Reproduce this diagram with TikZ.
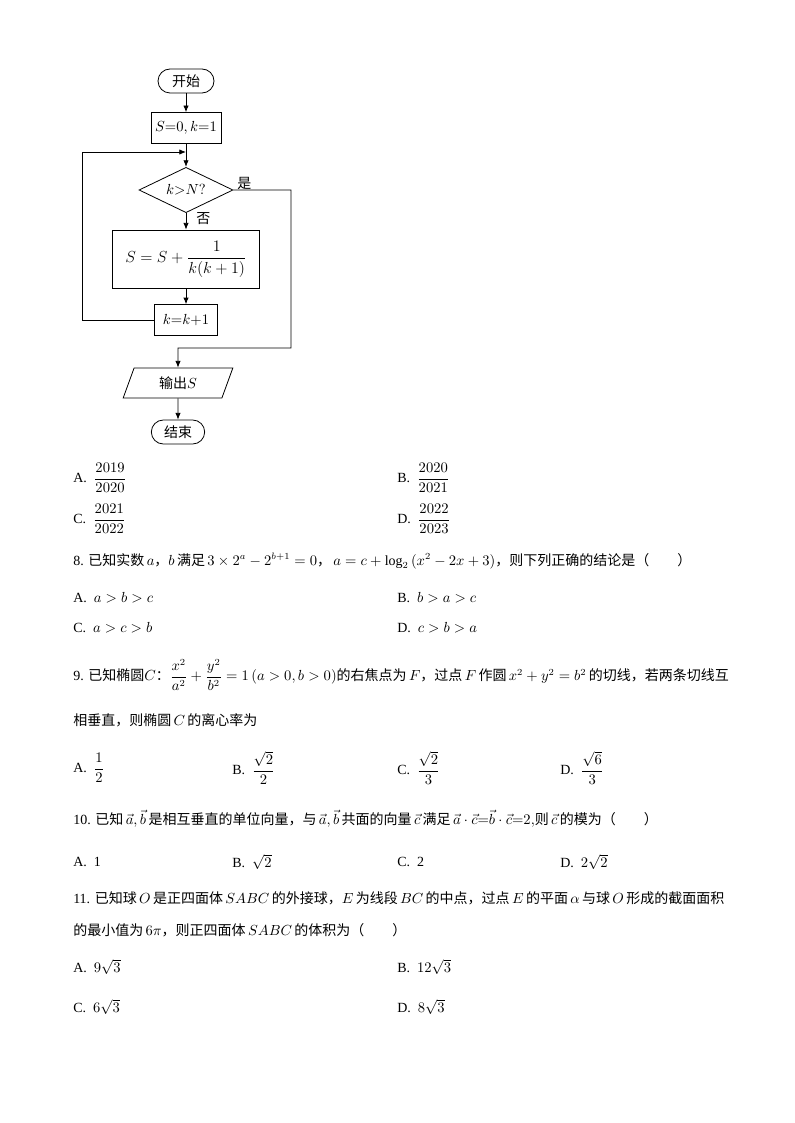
\documentclass[tikz,border=0pt]{standalone}
\usepackage{amsmath}
\usepackage{fontspec}
\setmainfont{Liberation Serif}
\newfontfamily\cjk{Noto Sans CJK SC}
\usetikzlibrary{shapes.geometric,arrows.meta}
\begin{document}
\begin{tikzpicture}[x=0.75pt,y=-0.75pt,font=\fontsize{10.5pt}{12pt}\selectfont,
  line/.style={draw,line width=0.6pt},
  arr/.style={line,-{Latex[length=5pt,width=4pt]}},
  boxst/.style={draw,line width=0.6pt,inner sep=0pt},
  txt/.style={anchor=west,inner sep=0pt}]
\useasboundingbox[fill=white] (0,0) rectangle (794,1123);
% flowchart
\node[boxst,rounded corners=9pt,minimum width=42pt,minimum height=18pt] (start) at (186,81) {\cjk 开始};
\node[boxst,minimum width=52.5pt,minimum height=23pt] (init) at (186,128) {$S{=}0,k{=}1$};
\coordinate (j1) at (186,152);
\node[boxst,diamond,aspect=2.1,minimum width=70.5pt,minimum height=34pt] (dec) at (186,190) {$k{>}N?$};
\node[boxst,minimum width=110pt,minimum height=43.5pt] (upd) at (186,259) {\fontsize{13pt}{15pt}\selectfont$S=S+\dfrac{1}{k(k+1)}$};
\node[boxst,minimum width=47pt,minimum height=23pt] (inc) at (186,320) {$k{=}k{+}1$};
\node[boxst,trapezium,trapezium left angle=70,trapezium right angle=110,minimum width=40pt,minimum height=22.5pt,inner xsep=0pt] (out) at (178,383) {{\cjk 输出}$S$};
\node[boxst,rounded corners=9pt,minimum width=40pt,minimum height=18pt] (end) at (178,432) {\cjk 结束};
\draw[arr] (start) -- (init);
\draw[arr] (init) -- (dec);
\draw[arr] (dec) -- (upd);
\draw[arr] (upd) -- (inc);
\draw[arr] (inc.west) -- (82,320) -- (82,152) -- (j1);
\draw[arr] (dec.east) -- (291,190) -- (291,348) -- (178,348) -- (out);
\draw[arr] (out) -- (end);
\node[txt] at (237,183) {\cjk 是};
\node[txt] at (196,219) {\cjk 否};
% options 7
\node[txt] at (73,478) {A.\ \ $\dfrac{2019}{2020}$};
\node[txt] at (397,478) {B.\ \ $\dfrac{2020}{2021}$};
\node[txt] at (73,519) {C.\ \ $\dfrac{2021}{2022}$};
\node[txt] at (397,519) {D.\ \ $\dfrac{2022}{2023}$};
% 8
\node[txt] at (73,561) {8. {\cjk 已知实数}\,$a${\cjk ，}$b$\,{\cjk 满足}\,$3\times2^a-2^{b+1}=0${\cjk ，}\,$a=c+\log_2\left(x^2-2x+3\right)${\cjk ，则下列正确的结论是（\qquad ）}};
\node[txt] at (73,598) {A.\ \ $a>b>c$};
\node[txt] at (397,598) {B.\ \ $b>a>c$};
\node[txt] at (73,628) {C.\ \ $a>c>b$};
\node[txt] at (397,628) {D.\ \ $c>b>a$};
% 9
\node[txt] at (73,675) {9. {\cjk 已知椭圆}$C${\cjk ：}$\dfrac{x^2}{a^2}+\dfrac{y^2}{b^2}=1\left(a>0,b>0\right)${\cjk 的右焦点为}\,$F${\cjk ，过点}\,$F$\,{\cjk 作圆}\,$x^2+y^2=b^2$\,{\cjk 的切线，若两条切线互}};
\node[txt] at (73,720) {{\cjk 相垂直，则椭圆}\,$C$\,{\cjk 的离心率为}};
\node[txt] at (73,768) {A.\ \ $\dfrac{1}{2}$};
\node[txt] at (232,768) {B.\ \ $\dfrac{\sqrt2}{2}$};
\node[txt] at (397,768) {C.\ \ $\dfrac{\sqrt2}{3}$};
\node[txt] at (560,768) {D.\ \ $\dfrac{\sqrt6}{3}$};
% 10
\node[txt] at (73,819) {10. {\cjk 已知}\,$\vec a,\vec b$\,{\cjk 是相互垂直的单位向量，与}\,$\vec a,\vec b$\,{\cjk 共面的向量}\,$\vec c$\,{\cjk 满足}\,$\vec a\cdot\vec c{=}\vec b\cdot\vec c{=}2,${\cjk 则}\,$\vec c$\,{\cjk 的模为（\qquad ）}};
\node[txt] at (73,862) {A.\ \ 1};
\node[txt] at (232,862) {B.\ \ $\sqrt2$};
\node[txt] at (397,862) {C.\ \ 2};
\node[txt] at (560,862) {D.\ \ $2\sqrt2$};
% 11
\node[txt] at (73,898) {11. {\cjk 已知球}\,$O$\,{\cjk 是正四面体}\,$SABC$\,{\cjk 的外接球，}$E$\,{\cjk 为线段}\,$BC$\,{\cjk 的中点，过点}\,$E$\,{\cjk 的平面}\,$\alpha$\,{\cjk 与球}\,$O$\,{\cjk 形成的截面面积}};
\node[txt] at (73,930) {{\cjk 的最小值为}\,$6\pi${\cjk ，则正四面体}\,$SABC$\,{\cjk 的体积为（\qquad ）}};
\node[txt] at (73,967) {A.\ \ $9\sqrt3$};
\node[txt] at (397,967) {B.\ \ $12\sqrt3$};
\node[txt] at (73,1007) {C.\ \ $6\sqrt3$};
\node[txt] at (397,1007) {D.\ \ $8\sqrt3$};
\end{tikzpicture}
\end{document}
